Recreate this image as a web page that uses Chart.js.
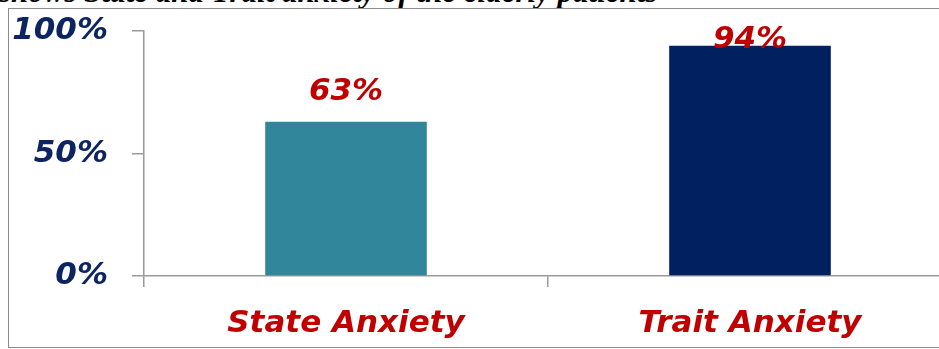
<!DOCTYPE html>
<html>
<head>
<meta charset="utf-8">
<script src="https://cdn.jsdelivr.net/npm/chart.js@4/dist/chart.umd.min.js"></script>
<style>
  html, body { margin: 0; padding: 0; background: #fff; overflow: hidden; width: 939px; height: 349px; }
  #caption { position: absolute; left: -1px; top: -26px; font: italic bold 31px "Liberation Serif", "Times New Roman", serif; color: #000; white-space: nowrap; }
  #frame { position: absolute; left: 8px; top: 8px; width: 1000px; height: 338px; border: 1px solid #8c8c8c; }
  #wrap { position: absolute; left: 0; top: 0; width: 980px; height: 349px; }
</style>
</head>
<body>
<div id="caption">shows State and Trait anxiety of the elderly patients</div>
<div id="frame"></div>
<div id="wrap"><canvas id="chart"></canvas></div>
<script>
const categories = ["State Anxiety", "Trait Anxiety"];
const values = [63, 94];
const barColors = ["#31869c", "#002060"];
const yTicks = [0, 50, 100];

const AXIS = "#9a9a9a";
const NAVY = "#0c2461";
const RED = "#c00000";
const FONT_FAMILY = "'DejaVu Sans', Arial, sans-serif";
const labelFont = { family: FONT_FAMILY, size: 31, style: "oblique", weight: "bold" };

const valueLabels = {
  id: "valueLabels",
  afterDatasetsDraw(chart) {
    const { ctx, chartArea } = chart;
    const meta = chart.getDatasetMeta(0);
    ctx.save();
    ctx.font = `oblique bold 31px ${FONT_FAMILY}`;
    ctx.fillStyle = RED;
    ctx.textAlign = "center";
    ctx.textBaseline = "alphabetic";
    meta.data.forEach((bar, i) => {
      const y = Math.max(bar.y - 22, chartArea.top + 17);
      ctx.fillText(`${values[i]}%`, bar.x, y);
    });
    ctx.restore();
  }
};

new Chart(document.getElementById("chart"), {
  type: "bar",
  data: {
    labels: categories,
    datasets: [{ data: values, backgroundColor: barColors, barPercentage: 1, categoryPercentage: 0.4 }]
  },
  options: {
    responsive: true,
    maintainAspectRatio: false,
    animation: false,
    layout: { padding: { top: 31, right: 28, left: 0, bottom: 0 } },
    plugins: { legend: { display: false }, tooltip: { enabled: false } },
    scales: {
      x: {
        offset: true,
        grid: { offset: true, drawOnChartArea: false, drawTicks: true, tickLength: 11, color: AXIS, lineWidth: 1.5 },
        border: { color: AXIS, width: 1.5 },
        ticks: { color: RED, font: labelFont, padding: 18, maxRotation: 0 },
        afterFit: (scale) => { scale.height = 349 - 276; scale.paddingLeft = 0; scale.paddingRight = 0; }
      },
      y: {
        min: 0, max: 100,
        afterBuildTicks: (scale) => { scale.ticks = yTicks.map((v) => ({ value: v })); },
        grid: { drawOnChartArea: false, drawTicks: true, tickLength: 12, color: AXIS, lineWidth: 1.5 },
        border: { color: AXIS, width: 1.5 },
        ticks: { color: NAVY, font: labelFont, padding: 24, callback: (v) => `${v}%` },
        afterFit: (scale) => { scale.width = 144; scale.paddingTop = 0; scale.paddingBottom = 0; }
      }
    }
  },
  plugins: [valueLabels]
});
</script>
</body>
</html>
